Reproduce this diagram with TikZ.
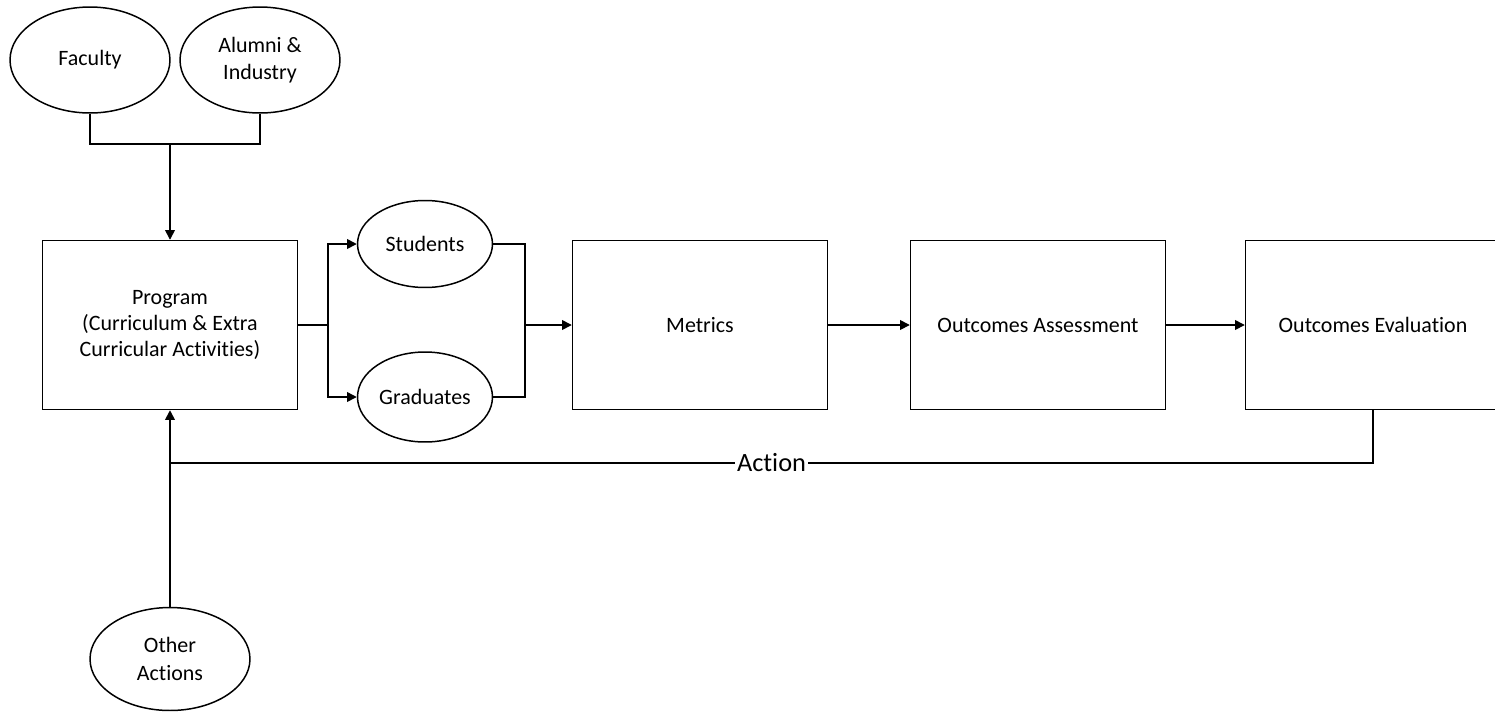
\documentclass[tikz,border=0pt]{standalone}
\usepackage{fontspec}
\setmainfont{Carlito}[Ligatures={NoCommon}]
\usetikzlibrary{arrows.meta,shapes.geometric}

\begin{document}
\begin{tikzpicture}[x=0.02cm, y=-0.02cm,
    line width=0.85pt,
    >={Triangle[length=5.5pt,width=5.5pt]},
    box/.style={draw, minimum width=5.1cm, minimum height=3.38cm, align=center,
        font=\fontsize{12.5}{15}\selectfont},
    oval/.style={draw, ellipse, inner sep=0pt, align=center,
        font=\fontsize{12.5}{15.5}\selectfont}]
    \useasboundingbox (0,0) rectangle (1495,711);

    % Add nodes
    \node[oval, minimum width=3.2cm, minimum height=2.12cm] (fac) at (90,60) {Faculty};
    \node[oval, minimum width=3.2cm, minimum height=2.12cm] (alu) at (260,60) {Alumni \&\\Industry};
    \node[box] (prog) at (170,325) {Program\\(Curriculum \& Extra\\Curricular Activities)};
    \node[oval, minimum width=2.7cm, minimum height=1.74cm] (stu) at (425,244) {Students};
    \node[oval, minimum width=2.7cm, minimum height=1.8cm] (grad) at (425,397) {Graduates};
    \node[box] (met) at (700,325) {Metrics};
    \node[box] (oa) at (1038,325) {Outcomes Assessment};
    \node[box] (oe) at (1373,325) {Outcomes Evaluation};
    \node[oval, minimum width=3.2cm, minimum height=2.06cm] (other) at (170,659) {Other\\Actions};

    \coordinate (join) at (170,144);
    \coordinate (split) at (328,325);
    \coordinate (merge) at (525,325);
    \coordinate (back) at (170,463);

    % Draw edges
    \draw (fac.south) |- (join) -| (alu.south);
    \draw[->] (join) -- (prog.north);
    \draw (prog.east) -- (split);
    \draw[->] (split) |- (stu.west);
    \draw[->] (split) |- (grad.west);
    \draw (stu.east) -| (merge) |- (grad.east);
    \draw[->] (merge) -- (met.west);
    \draw[->] (met.east) -- (oa.west);
    \draw[->] (oa.east) -- (oe.west);
    \draw (oe.south) |- node[pos=0.75, fill=white, inner sep=1pt,
        font=\fontsize{15}{18}\selectfont] {Action} (back);
    \draw[->] (other.north) -- (back) -- (prog.south);
\end{tikzpicture}
\end{document}
